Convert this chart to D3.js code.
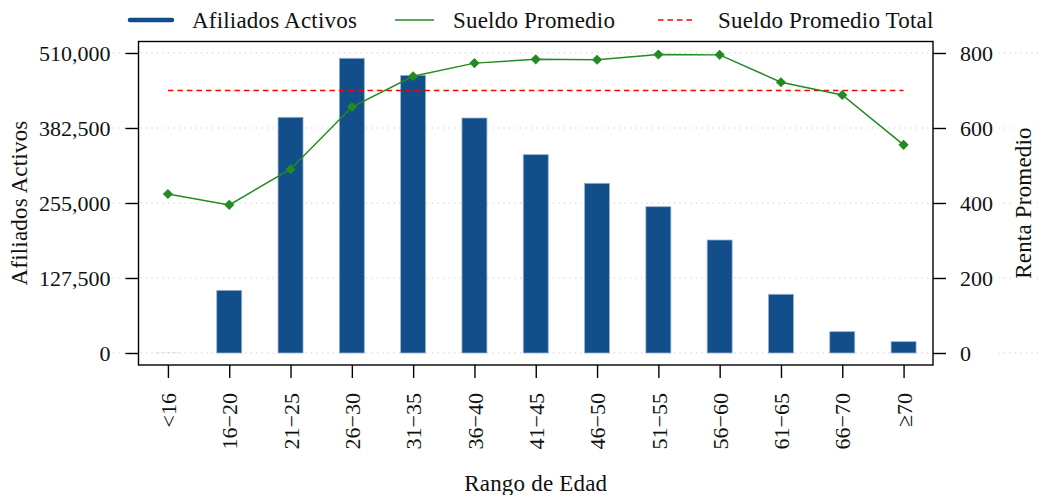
<!DOCTYPE html>
<html>
<head>
<meta charset="utf-8">
<script src="https://cdn.jsdelivr.net/npm/d3@7"></script>
<style>
  html, body { margin: 0; padding: 0; background: #fff; }
  svg text { font-family: "Liberation Serif", "DejaVu Serif", serif !important; }
  .word { letter-spacing: 0.2px; }
</style>
</head>
<body>
<svg id="chart" width="1038" height="495"></svg>
<script>
// ---- data ----
const categories = ["<16", "16\u221220", "21\u221225", "26\u221230", "31\u221235", "36\u221240", "41\u221245",
                    "46\u221250", "51\u221255", "56\u221260", "61\u221265", "66\u221270", "\u226570"];
const afiliados = [150, 106500, 400700, 501000, 472000, 399500, 337200, 288500, 248700, 192100, 99800, 36300, 19300];
const sueldo = [424, 395, 490, 656, 738, 773, 783, 782, 796, 795, 722, 688, 555];
const sueldoTotal = 700;
const leftTicks = [0, 127500, 255000, 382500, 510000];
const rightTicks = [0, 200, 400, 600, 800];
const legendLabels = ["Afiliados Activos", "Sueldo Promedio", "Sueldo Promedio Total"];

// ---- layout ----
const W = 1038, H = 495;
const box = { left: 138.5, right: 933, top: 41.5, bottom: 365 };
const FS = 22, FSW = 23;
const blue = "#114e8a", green = "#228b22", red = "#ff0000";

const svg = d3.select("#chart");

const x = d3.scalePoint().domain(categories).range([box.left, box.right]).padding(0.48);
const yL = d3.scaleLinear().domain([0, 510000]).range([353, 53]);
const yR = d3.scaleLinear().domain([0, 800]).range([353, 53]);

// gridlines (span wide, like the reference)
svg.append("g").selectAll("line").data(leftTicks).join("line")
  .attr("x1", 113).attr("x2", W)
  .attr("y1", d => yL(d)).attr("y2", d => yL(d))
  .attr("stroke", "#c8c8c8").attr("stroke-width", 1).attr("stroke-dasharray", "1.2,4.3");

// bars
const barW = 25;
svg.append("g").selectAll("rect").data(categories).join("rect")
  .attr("x", d => x(d) - barW / 2)
  .attr("y", (d, i) => yL(afiliados[i]))
  .attr("width", barW)
  .attr("height", (d, i) => yL(0) - yL(afiliados[i]))
  .attr("fill", blue)
  .attr("stroke", (d, i) => (yL(0) - yL(afiliados[i]) > 1 ? "#9db3cf" : "none"))
  .attr("stroke-width", 0.8);

// total dashed line
svg.append("line")
  .attr("x1", x(categories[0])).attr("x2", x(categories[categories.length - 1]))
  .attr("y1", yR(sueldoTotal)).attr("y2", yR(sueldoTotal))
  .attr("stroke", red).attr("stroke-width", 1.5).attr("stroke-dasharray", "5.5,4");

// sueldo line
const line = d3.line().x((d, i) => x(categories[i])).y(d => yR(d));
svg.append("path").datum(sueldo).attr("d", line)
  .attr("fill", "none").attr("stroke", green).attr("stroke-width", 1.5);
const diamond = d3.symbol().type(d3.symbolSquare).size(52);
svg.append("g").selectAll("path").data(sueldo).join("path")
  .attr("d", diamond)
  .attr("transform", (d, i) => `translate(${x(categories[i])},${yR(d)}) rotate(45)`)
  .attr("fill", green);

// frame
svg.append("rect")
  .attr("x", box.left).attr("y", box.top)
  .attr("width", box.right - box.left).attr("height", box.bottom - box.top)
  .attr("fill", "none").attr("stroke", "#000").attr("stroke-width", 1.4);

// left axis
const axL = svg.append("g").attr("transform", `translate(${box.left},0)`)
  .call(d3.axisLeft(yL).tickValues(leftTicks).tickFormat(d3.format(",")).tickSize(13).tickPadding(15));
axL.select(".domain").remove();
axL.selectAll(".tick line").attr("stroke-width", 1.4);
axL.selectAll("text").attr("font-size", FS).attr("fill", "#111").attr("dy", "0.33em");

// right axis with white label backgrounds
const axR = svg.append("g").attr("transform", `translate(${box.right},0)`)
  .call(d3.axisRight(yR).tickValues(rightTicks).tickSize(13).tickPadding(14));
axR.select(".domain").remove();
axR.selectAll(".tick line").attr("stroke-width", 1.4);
axR.selectAll(".tick").insert("rect", "text")
  .attr("x", 16).attr("y", -6).attr("width", 50).attr("height", 12).attr("fill", "#fff");
axR.selectAll("text").attr("font-size", FS).attr("fill", "#111").attr("dy", "0.33em");

// bottom axis
const axB = svg.append("g").attr("transform", `translate(0,${box.bottom})`)
  .call(d3.axisBottom(x).tickSize(13).tickPadding(0));
axB.select(".domain").remove();
axB.selectAll(".tick line").attr("stroke-width", 1.4);
axB.selectAll("text")
  .attr("font-size", FS).attr("fill", "#111")
  .attr("text-anchor", "end")
  .attr("transform", "translate(0,28) rotate(-90)")
  .attr("x", 0).attr("y", 0).attr("dy", "0.35em");

// axis titles
svg.append("text").attr("class", "word").attr("transform", "translate(27,203) rotate(-90)")
  .attr("text-anchor", "middle").attr("font-size", FSW).attr("fill", "#111").text("Afiliados Activos");
const rt = svg.append("g").attr("transform", "translate(1031,203) rotate(-90)");
rt.append("rect").attr("x", -82).attr("y", -19).attr("width", 164).attr("height", 25).attr("fill", "#fff");
rt.append("text").attr("class", "word").attr("text-anchor", "middle").attr("font-size", FSW).attr("fill", "#111").text("Renta Promedio");
svg.append("text").attr("class", "word").attr("x", (box.left + box.right) / 2).attr("y", 491)
  .attr("text-anchor", "middle").attr("font-size", FSW).attr("fill", "#111").text("Rango de Edad");

// legend
const lg = svg.append("g");
const legendItems = [
  { x1: 130, x2: 172, tx: 192, stroke: blue, w: 4.5, dash: null, cap: "round" },
  { x1: 395, x2: 434, tx: 453, stroke: green, w: 1.5, dash: null, cap: "butt" },
  { x1: 658, x2: 695, tx: 718, stroke: red, w: 1.5, dash: "5.5,4", cap: "butt" }
];
legendItems.forEach((it, i) => {
  lg.append("line").attr("x1", it.x1).attr("x2", it.x2).attr("y1", 20).attr("y2", 20)
    .attr("stroke", it.stroke).attr("stroke-width", it.w).attr("stroke-linecap", it.cap)
    .attr("stroke-dasharray", it.dash);
  lg.append("text").attr("class", "word").attr("x", it.tx).attr("y", 28).attr("font-size", FSW).attr("fill", "#111").text(legendLabels[i]);
});
</script>
</body>
</html>
